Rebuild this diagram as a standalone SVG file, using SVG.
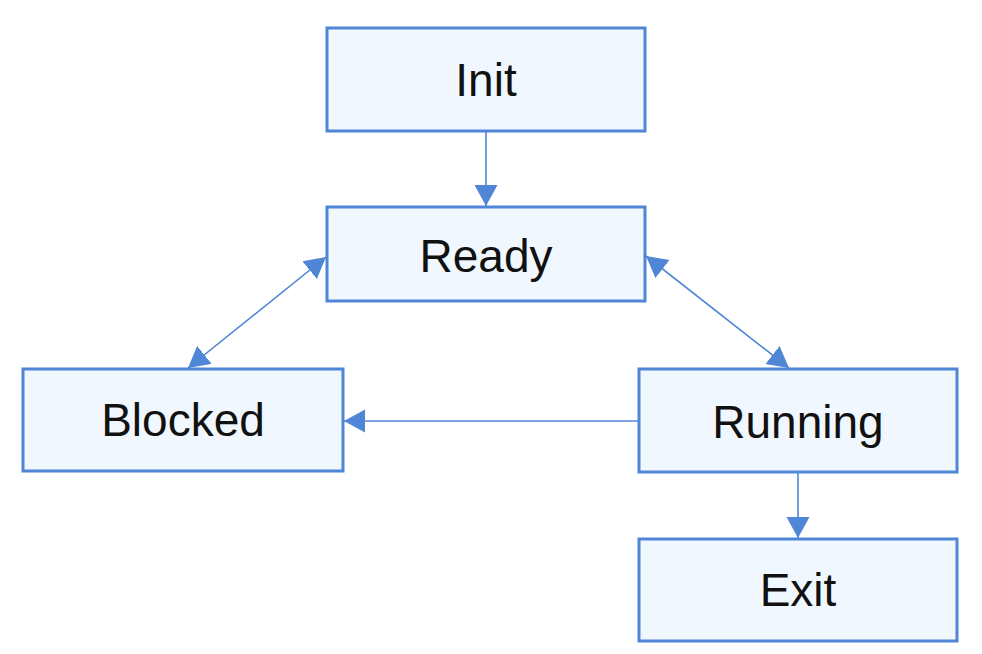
<svg xmlns="http://www.w3.org/2000/svg" width="982" height="654" viewBox="0 0 982 654">
  <style>
    .node rect { fill: #f0f7fe; stroke: #4f86d6; stroke-width: 3; }
    .node text { font-family: "Liberation Sans", Arial, sans-serif; font-size: 46px; fill: #111; text-anchor: middle; }
    .edge { stroke: #4f86d6; stroke-width: 1.6; fill: none; }
  </style>
  <defs>
    <marker id="ah" markerUnits="userSpaceOnUse" markerWidth="22" markerHeight="24" refX="21" refY="11.5" orient="auto-start-reverse" viewBox="0 0 22 23">
      <path d="M0,0 L21,11.5 L0,23 Z" fill="#4f86d6"/>
    </marker>
  </defs>
  <rect width="982" height="654" fill="#ffffff"/>
  <g id="connectors">
    <line class="edge" x1="486" y1="131" x2="486" y2="206" marker-end="url(#ah)"/>
    <line class="edge" x1="326" y1="257" x2="188" y2="368" marker-start="url(#ah)" marker-end="url(#ah)"/>
    <line class="edge" x1="646" y1="256" x2="789" y2="368" marker-start="url(#ah)" marker-end="url(#ah)"/>
    <line class="edge" x1="639" y1="421" x2="344" y2="421" marker-end="url(#ah)"/>
    <line class="edge" x1="798" y1="472" x2="798" y2="538" marker-end="url(#ah)"/>
  </g>
  <g id="init" class="node">
    <rect x="327" y="28" width="318" height="103"/>
    <text x="486" y="96">Init</text>
  </g>
  <g id="ready" class="node">
    <rect x="327" y="207" width="318" height="94"/>
    <text x="486" y="272">Ready</text>
  </g>
  <g id="blocked" class="node">
    <rect x="23" y="369" width="320" height="102"/>
    <text x="183" y="436">Blocked</text>
  </g>
  <g id="running" class="node">
    <rect x="639" y="369" width="318" height="103"/>
    <text x="798" y="438">Running</text>
  </g>
  <g id="exit" class="node">
    <rect x="639" y="539" width="318" height="102"/>
    <text x="798" y="606">Exit</text>
  </g>
</svg>
